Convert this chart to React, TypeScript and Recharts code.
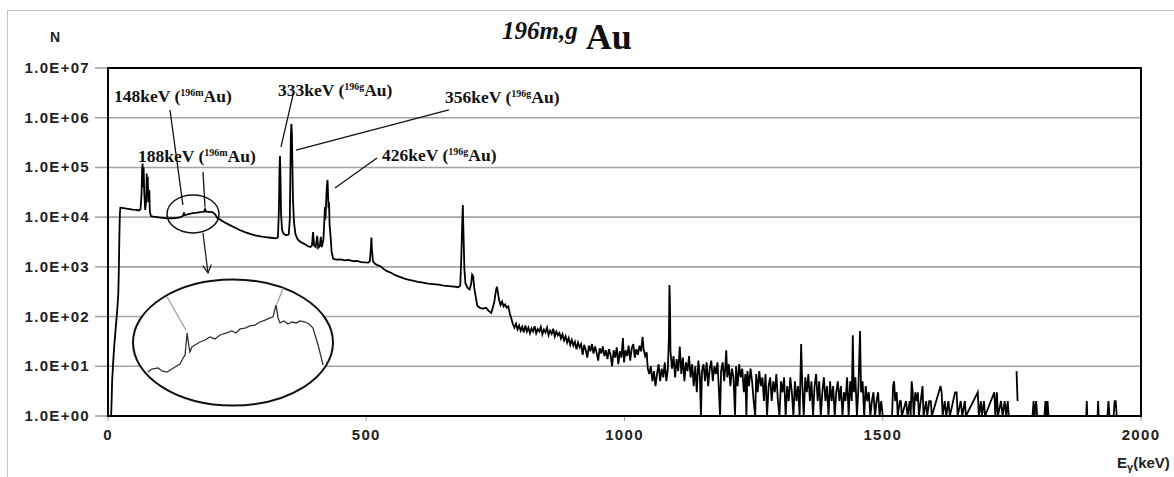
import { CartesianGrid, Line, LineChart, ReferenceDot, ReferenceLine, XAxis, YAxis } from "recharts";

type Pt = [number, number | null];

// gamma spectrum, [keV, counts]; null = empty channel
const lowEnergy: Pt[] = [
  [0, 1], [6, 1], [7, 2], [8, 5], [10, 12], [12, 25], [14, 45], [16, 80], [18, 140], [20, 300], [21, 900],
  [22, 4000], [23, 12000], [24, 15500], [30, 15200], [36, 14800], [42, 14500], [48, 14200], [54, 14000],
  [60, 13600], [63, 14500], [65, 30000], [66, 90000], [67, 120000], [68, 40000], [69, 100000], [70, 35000],
  [72, 14000], [74, 22000], [75, 75000], [76, 30000], [77, 65000], [78, 20000], [80, 35000], [81, 13000],
  [83, 10500], [88, 10200], [95, 10000], [102, 9800], [110, 9600], [118, 9500], [126, 9500], [134, 9700],
  [140, 10000], [144, 10400], [146, 11000], [147, 12500], [148, 11000], [152, 11200], [158, 11600],
  [164, 12000], [170, 12200], [176, 12500], [182, 12700], [186, 12900], [188, 14500], [190, 12900],
  [196, 12800], [202, 12600], [207, 11500], [212, 9500], [218, 8800], [226, 7800], [235, 7000], [245, 6200],
  [255, 5500], [265, 5000], [275, 4600], [285, 4300], [295, 4100], [305, 3950], [315, 3850], [325, 3750],
  [329, 3900],
];

const midEnergy: Pt[] = [
  [331, 15000], [332, 90000], [333, 170000], [334, 60000], [335, 12000], [337, 5500], [340, 4600], [345, 4300],
  [350, 4500], [352, 9000], [353, 60000], [354, 400000], [355, 750000], [356, 500000], [357, 120000],
  [358, 25000], [360, 8000], [363, 4500], [367, 3600], [372, 3200], [380, 2900], [387, 2600], [392, 2500],
  [395, 2700], [397, 5000], [399, 2700], [402, 2500], [405, 4200], [407, 2400], [410, 2600], [412, 4000],
  [414, 2500], [417, 3500], [419, 9000], [420, 16000], [421, 9000], [423, 30000], [424, 45000], [425, 56000],
  [426, 30000], [427, 15000], [428, 20000], [429, 7000], [431, 4000], [433, 2000], [436, 1450], [442, 1400],
  [450, 1420], [458, 1350], [466, 1380], [474, 1300], [482, 1320], [490, 1250], [498, 1230], [504, 1220],
  [507, 1300], [509, 2500], [510, 3900], [511, 2200], [513, 1300], [517, 1150], [522, 1080], [528, 1020],
  [534, 900], [540, 820], [548, 760], [556, 680], [565, 630], [574, 580], [583, 550], [592, 520], [600, 500],
  [610, 480], [620, 460], [630, 450], [640, 440], [650, 420], [660, 410], [670, 400], [678, 390], [682, 420],
  [684, 1500], [686, 9000], [687, 17500], [688, 6000], [690, 900], [692, 470], [696, 380], [700, 350],
  [703, 450], [705, 700], [707, 650], [709, 380], [712, 250], [715, 165], [720, 150], [726, 145], [732, 150],
  [737, 130], [742, 118],
];

const highEnergy: Pt[] = [
  [745, 150], [748, 200], [751, 330], [753, 400], [755, 300], [757, 220], [760, 170], [763, 200], [766, 160],
  [769, 175], [772, 150], [775, 160], [778, 115], [781, 90], [784, 70], [787, 60], [790, 72], [793, 55],
  [796, 66], [799, 52], [802, 62], [805, 48], [808, 66], [811, 50], [814, 60], [817, 46], [820, 58], [823, 50],
  [826, 64], [829, 46], [832, 56], [835, 50], [838, 62], [841, 44], [844, 55], [847, 48], [850, 60], [853, 42],
  [856, 52], [859, 45], [862, 57], [865, 40], [868, 50], [871, 42], [874, 47], [877, 36], [880, 44], [883, 33],
  [886, 40], [889, 30], [892, 37], [895, 27], [898, 34], [901, 26], [904, 31], [907, 22], [910, 30], [913, 24],
  [916, 28], [919, 17], [922, 27], [925, 21], [928, 15], [931, 26], [934, 20], [937, 28], [940, 18], [943, 25],
  [946, 19], [949, 13], [952, 23], [955, 18], [958, 25], [961, 16], [964, 21], [967, 14], [970, 22], [973, 17],
  [976, 10], [979, 21], [982, 15], [985, 24], [988, 11], [991, 20], [994, 15], [997, 37], [999, 12], [1002, 21],
  [1005, 16], [1008, 26], [1011, 13], [1014, 23], [1017, 28], [1020, 15], [1023, 22], [1026, 17], [1029, 26],
  [1032, 20], [1035, 39], [1037, 22], [1040, 16], [1043, 19], [1045, 9], [1048, 7], [1051, 10], [1054, 5],
  [1057, 8], [1060, 4], [1063, 7], [1066, 11], [1069, 5], [1072, 9], [1075, 6], [1078, 12], [1081, 5],
  [1084, 9], [1086, 40], [1087, 430], [1088, 200], [1089, 20], [1092, 9], [1095, 16], [1098, 6], [1101, 14],
  [1104, 8], [1107, 25], [1110, 7], [1113, 15], [1116, 5], [1119, 12], [1122, 8], [1125, 16], [1128, 6],
  [1131, 11], [1134, 4], [1137, 10], [1140, 3], [1143, 13], [1146, 6], [1148, 1], [1150, 8],
];

const tailEnergy: Pt[] = [
  [1153, 11], [1156, 5], [1159, 12], [1162, 4], [1165, 9], [1168, 13], [1171, 5], [1174, 10], [1177, 7],
  [1180, 12], [1183, 3], [1185, 1], [1187, 8], [1190, 12], [1193, 5], [1195, 9], [1197, 21], [1199, 6],
  [1202, 11], [1205, 4], [1208, 9], [1211, 6], [1214, 1], [1216, 10], [1219, 4], [1222, 11], [1225, 6],
  [1228, 9], [1231, 3], [1234, 7], [1236, 1], [1238, 8], [1241, 4], [1244, 9], [1247, 5], [1250, 2], [1253, 1],
  [1255, 7], [1258, 3], [1261, 8], [1264, 4], [1267, 6], [1270, 2], [1273, 7], [1276, 1], [1279, 4], [1282, 6],
  [1285, 2], [1288, 5], [1291, 3], [1294, 7], [1297, 2], [1300, 1], [1303, 5], [1306, 3], [1309, 6], [1312, 1],
  [1315, 4], [1318, 2], [1321, 6], [1324, 3], [1327, 1], [1330, 5], [1333, 2], [1336, 4], [1339, 1], [1341, 9],
  [1342, 28], [1344, 5], [1347, 1], [1350, 6], [1353, 3], [1356, 7], [1359, 2], [1362, 5], [1365, 1], [1368, 4],
  [1371, 7], [1374, 2], [1377, 5], [1380, 1], [1383, 3], [1386, 6], [1389, 2], [1392, 4], [1395, 1], [1398, 5],
  [1401, 2], [1404, 4], [1407, 1], [1410, 3], [1413, 5], [1416, 2], [1419, 4], [1422, 1], [1425, 3], [1428, 2],
  [1431, 6], [1434, 1], [1437, 5], [1440, 2], [1442, 42], [1444, 3], [1447, 6], [1450, 1], [1453, 4], [1456, 51],
  [1458, 3], [1461, 5], [1464, 1], [1467, 4], [1470, 2], [1473, 3], [1476, 1], [1479, 2], [1482, 3], [1485, 1],
  [1488, 2], [1491, 3], [1494, 1], [1497, 2], [1500, 1], [1518, 1], [1520, 4], [1522, 5], [1524, 2], [1527, 3],
  [1529, 1], [1533, 2], [1535, 2], [1537, 1], [1545, 2], [1548, 1], [1552, 2], [1554, 1], [1556, 5], [1558, 3],
  [1560, 1], [1563, 3], [1566, 2], [1568, 3], [1570, 1], [1577, 4], [1579, 1], [1584, 2], [1586, 1], [1590, 2],
  [1593, 2], [1595, 1], [1612, 4], [1614, 3], [1616, 1], [1620, 2], [1623, 1], [1627, 2], [1630, 1], [1640, 3],
  [1643, 3], [1645, 1], [1651, 2], [1654, 1], [1659, 2], [1661, 1], [1684, 3], [1686, 1], [1690, 2], [1692, 1],
  [1696, 2], [1698, 1], [1716, 3], [1718, 1], [1721, 3], [1723, 1], [1729, 2], [1732, 1], [1736, 2], [1739, 1],
  [1742, 2], [1744, 1], [1757, null], [1759, 8], [1761, 2], [1763, null], [1765, 1], [1790, 1], [1792, 2],
  [1794, 1], [1797, 2], [1799, 1], [1813, 1], [1815, 2], [1817, 1], [1819, 2], [1821, 1], [1894, 1], [1895, 2],
  [1896, 1], [1916, 1], [1917, 2], [1918, 1], [1935, 1], [1937, 2], [1939, 1], [1947, 1], [1949, 2], [1951, 2],
  [1953, 1], [2000, 1],
];

// magnified 130-210 keV region shown inside the big ellipse (linear counts)
const insetSpectrum: [number, number][] = [
  [129.8, 8930], [131.6, 9190], [134.4, 9280], [136.2, 9020], [138.5, 8930], [140.7, 9190], [142.1, 9360],
  [144.4, 9620], [145.8, 10140], [146.7, 10400], [147.6, 12290], [148.5, 11090], [148.9, 10660], [149.8, 11090],
  [151.2, 11260], [153.5, 11520], [155.8, 11690], [158.0, 11950], [160.3, 11780], [162.6, 12120], [165.3, 12290],
  [168.0, 12470], [169.9, 12290], [171.7, 12640], [174.0, 12720], [176.2, 12900], [178.5, 12980], [180.8, 13240],
  [183.1, 13410], [185.3, 13590], [186.7, 13670], [188.1, 14710], [189.0, 13590], [189.9, 13160], [191.7, 13330],
  [193.5, 13070], [195.3, 13240], [197.2, 13160], [199.0, 13330], [201.3, 13240], [203.1, 13070], [204.9, 12720],
  [207.2, 11260], [209.5, 9530],
];

const yTicks = [1, 10, 100, 1e3, 1e4, 1e5, 1e6, 1e7];
const xTicks = [0, 500, 1000, 1500, 2000];

const peakEnergies = ["148keV", "188keV", "333keV", "356keV", "426keV"];
const peakIsotopes = ["196m", "196m", "196g", "196g", "196g"];

// annotation placement in (keV, counts)
const labelAnchors: [number, number][] = [[11.6, 2.08e6], [58, 1.29e5], [329, 2.75e6], [652.5, 1.99e6], [530.5, 1.35e5]];
const leaderLines: [number, number, number, number][] = [
  [120, 1.43e6, 145, 1.76e4],
  [183.9, 8.1e4, 187.8, 1.6e4],
  [358.2, 2.87e6, 335, 2.58e5],
  [364, 2.24e5, 660, 1.43e6],
  [520.8, 1.55e5, 439.5, 3.86e4],
];
const insetLeaders: [number, number, number, number][] = [
  [138.5, 15400, 147.1, 12550],
  [191.3, 16170, 188.5, 14790],
];

const spectrum = [...lowEnergy, ...midEnergy, ...highEnergy, ...tailEnergy].map(([e, n]) => ({ e, n }));
const inset = insetSpectrum.map(([e, n]) => ({ e, n }));

const sans = "'Liberation Sans', Arial, sans-serif";
const serif = "'Liberation Serif', 'Times New Roman', serif";
const gridColor = "#a3a3a3";

const fmtExp = (v: number) => `1.0E+${String(Math.round(Math.log10(v))).padStart(2, "0")}`;

const YTick = ({ x, y, payload }: any) => (
  <text x={x} y={y} dy={5} textAnchor="end" fontFamily={sans} fontWeight="bold" fontSize={15} letterSpacing={1.3} fill="#222">
    {fmtExp(payload.value)}
  </text>
);

const XTick = ({ x, y, payload }: any) => (
  <text x={x} y={y} dy={11} textAnchor="middle" fontFamily={sans} fontWeight="bold" fontSize={15} letterSpacing={1.3} fill="#222">
    {payload.value}
  </text>
);

const PeakLabel = ({ cx, cy, energy, isotope }: any) => (
  <text x={cx} y={cy} fontFamily={serif} fontWeight="bold" fontSize={17.5} fill="#111">
    {energy} (
    <tspan fontSize={10} dy={-6}>{isotope}</tspan>
    <tspan dy={6}>Au)</tspan>
  </text>
);

const ArrowLine = (p: any) => {
  const { x1, y1, x2, y2 } = p;
  const a = Math.atan2(y2 - y1, x2 - x1);
  const h = 9;
  const lx = x2 - h * Math.cos(a - 0.5);
  const ly = y2 - h * Math.sin(a - 0.5);
  const rx = x2 - h * Math.cos(a + 0.5);
  const ry = y2 - h * Math.sin(a + 0.5);
  return (
    <g>
      <line x1={x1} y1={y1} x2={x2} y2={y2} stroke="#222" strokeWidth={1.3} />
      <polyline points={`${lx},${ly} ${x2},${y2} ${rx},${ry}`} fill="none" stroke="#222" strokeWidth={1.3} />
    </g>
  );
};

export default function App() {
  return (
    <div style={{ position: "fixed", left: 0, top: 0, width: 1174, height: 477, background: "#fff", overflow: "hidden" }}>
      {/* outer chart-area frame */}
      <div style={{ position: "absolute", left: 7, top: 10, width: 1190, height: 500, border: "1px solid #c6c6c6" }} />

      <LineChart width={1174} height={477} data={spectrum} margin={{ top: 68, right: 33, bottom: 31, left: 8 }} style={{ position: "absolute", left: 0, top: 0 }}>
        <CartesianGrid vertical={false} stroke={gridColor} strokeWidth={1.6} />
        <XAxis
          dataKey="e"
          type="number"
          domain={[0, 2000]}
          ticks={xTicks}
          height={30}
          axisLine={false}
          tickSize={5}
          tickMargin={8}
          tickLine={{ stroke: gridColor }}
          tick={<XTick />}
        />
        <YAxis
          type="number"
          scale="log"
          domain={[1, 1e7]}
          ticks={yTicks}
          allowDataOverflow
          width={100}
          axisLine={false}
          tickSize={13}
          tickMargin={5}
          tickLine={{ stroke: gridColor, strokeWidth: 1.6 }}
          tick={<YTick />}
        />
        <Line type="linear" dataKey="n" stroke="#000" strokeWidth={1.8} dot={false} isAnimationActive={false} connectNulls={false} />

        {/* magnifier: small ellipse, arrow, big white ellipse */}
        <ReferenceDot
          x={164.6}
          y={11600}
          ifOverflow="visible"
          shape={(p: any) => <ellipse cx={p.cx} cy={p.cy} rx={26} ry={19} fill="none" stroke="#111" strokeWidth={1.5} />}
        />
        <ReferenceLine segment={[{ x: 183.9, y: 4800 }, { x: 193.6, y: 753 }]} ifOverflow="visible" shape={<ArrowLine />} />
        <ReferenceDot
          x={242}
          y={30}
          ifOverflow="visible"
          shape={(p: any) => <ellipse cx={p.cx} cy={p.cy} rx={100} ry={63} fill="#fff" stroke="#111" strokeWidth={2} />}
        />

        {leaderLines.map(([xa, ya, xb, yb], i) => (
          <ReferenceLine key={`l${i}`} segment={[{ x: xa, y: ya }, { x: xb, y: yb }]} ifOverflow="visible" stroke="#111" strokeWidth={1.3} />
        ))}
        {labelAnchors.map(([x, y], i) => (
          <ReferenceDot
            key={`t${i}`}
            x={x}
            y={y}
            ifOverflow="visible"
            shape={(p: any) => <PeakLabel cx={p.cx} cy={p.cy} energy={peakEnergies[i]} isotope={peakIsotopes[i]} />}
          />
        ))}
      </LineChart>

      {/* plot frame */}
      <div style={{ position: "absolute", left: 107, top: 67, width: 1035, height: 350, border: "2px solid #000", boxSizing: "border-box", pointerEvents: "none" }} />

      {/* inset: magnified 148 / 188 keV region */}
      <LineChart width={200} height={126} data={inset} margin={{ top: 10, right: 0, bottom: 0, left: 0 }} style={{ position: "absolute", left: 133, top: 280 }}>
        <XAxis dataKey="e" type="number" domain={[123, 214]} hide />
        <YAxis type="number" domain={[6000, 16000]} allowDataOverflow hide />
        <Line type="linear" dataKey="n" stroke="#333" strokeWidth={1.3} dot={false} isAnimationActive={false} />
        {insetLeaders.map(([xa, ya, xb, yb], i) => (
          <ReferenceLine key={`g${i}`} segment={[{ x: xa, y: ya }, { x: xb, y: yb }]} ifOverflow="visible" stroke="#9a9a9a" strokeWidth={1.2} />
        ))}
      </LineChart>

      {/* title */}
      <div style={{ position: "absolute", left: 502, top: 16, whiteSpace: "nowrap", color: "#111", fontFamily: serif }}>
        <span style={{ fontStyle: "italic", fontWeight: "bold", fontSize: 25, position: "relative", top: -10 }}>196m,g</span>
        <span style={{ fontWeight: "bold", fontSize: 36, marginLeft: 8 }}>Au</span>
      </div>

      <div style={{ position: "absolute", left: 50, top: 29, fontFamily: sans, fontWeight: "bold", fontSize: 14, color: "#222" }}>N</div>

      <div style={{ position: "absolute", left: 1117, top: 454, fontFamily: sans, fontWeight: "bold", fontSize: 15, color: "#222", whiteSpace: "nowrap" }}>
        E<sub style={{ fontSize: 11, verticalAlign: "-3px" }}>γ</sub>(keV)
      </div>
    </div>
  );
}
